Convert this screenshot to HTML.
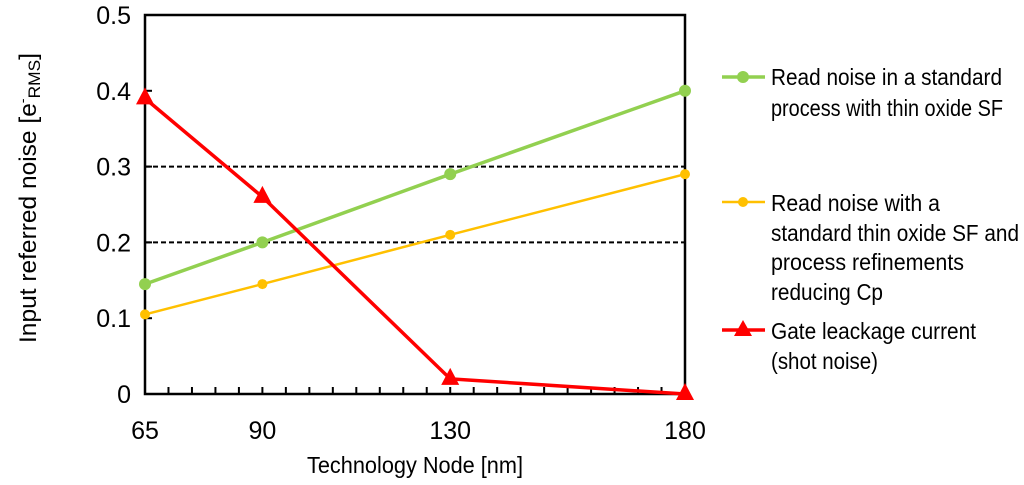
<!DOCTYPE html>
<html><head><meta charset="utf-8"><style>
html,body{margin:0;padding:0;background:#fff;}
svg{display:block;font-family:"Liberation Sans Narrow","Liberation Sans",sans-serif;}
</style></head><body>
<svg id="chart" width="1024" height="485" viewBox="0 0 1024 485" xmlns="http://www.w3.org/2000/svg">
<g id="grid"></g>
<g id="axes"></g>
<g id="series"></g>
<text x="415" y="473" font-size="23" text-anchor="middle" textLength="216" lengthAdjust="spacingAndGlyphs">Technology Node  [nm]</text>
<text transform="translate(36,198) rotate(-90)" font-size="24" text-anchor="middle" textLength="290" lengthAdjust="spacingAndGlyphs">Input referred noise  [e<tspan font-size="14" dy="-9">-</tspan><tspan font-size="17" dy="13">RMS</tspan><tspan dy="-4">]</tspan></text>
<g font-size="23">
 <g>
  <line x1="722" y1="77" x2="765" y2="77" stroke="#92d050" stroke-width="3.5"/>
  <circle cx="743" cy="77" r="6" fill="#92d050"/>
  <text x="771" y="85" textLength="231" lengthAdjust="spacingAndGlyphs">Read noise in a standard</text>
  <text x="771" y="116" textLength="232" lengthAdjust="spacingAndGlyphs">process with thin oxide SF</text>
 </g>
 <g>
  <line x1="722" y1="202" x2="765" y2="202" stroke="#ffc000" stroke-width="2.5"/>
  <circle cx="743" cy="202" r="5" fill="#ffc000"/>
  <text x="771" y="211" textLength="169" lengthAdjust="spacingAndGlyphs">Read noise with a</text>
  <text x="771" y="241" textLength="248" lengthAdjust="spacingAndGlyphs">standard thin oxide SF and</text>
  <text x="771" y="270" textLength="193" lengthAdjust="spacingAndGlyphs">process refinements</text>
  <text x="771" y="300" textLength="112" lengthAdjust="spacingAndGlyphs">reducing Cp</text>
 </g>
 <g>
  <line x1="722" y1="330" x2="765" y2="330" stroke="#ff0000" stroke-width="3.5"/>
  <polygon points="743,320 752,336 734,336" fill="#ff0000"/>
  <text x="771" y="339" textLength="205" lengthAdjust="spacingAndGlyphs">Gate leackage current</text>
  <text x="771" y="369" textLength="107" lengthAdjust="spacingAndGlyphs">(shot noise)</text>
 </g>
</g>
</svg>
<script>
const categories=[65,90,130,180];
const greenValues=[0.145,0.2,0.29,0.4];
const orangeValues=[0.105,0.145,0.21,0.29];
const redValues=[0.39,0.26,0.02,0.0];
const yTicks=[0,0.1,0.2,0.3,0.4,0.5];
const yTickLabels=["0","0.1","0.2","0.3","0.4","0.5"];
const dashedLevels=[0.2,0.3];

const NS="http://www.w3.org/2000/svg";
const L=145,R=685,T=15,B=394,xmin=65,xmax=180,ymax=0.5;
function xs(v){return L+(v-xmin)/(xmax-xmin)*(R-L);}
function ys(v){return B-v/ymax*(B-T);}
function mk(tag,attrs,parent){const e=document.createElementNS(NS,tag);for(const k in attrs)e.setAttribute(k,attrs[k]);parent.appendChild(e);return e;}
const grid=document.getElementById('grid'),axes=document.getElementById('axes'),series=document.getElementById('series');

dashedLevels.forEach(v=>{
 const l=mk('line',{x1:L,x2:R,y1:ys(v),y2:ys(v),stroke:'#000','stroke-width':2,'stroke-dasharray':'5,3'},grid);
 
 
});
const frame=mk('rect',{x:L,y:T,width:R-L,height:B-T,fill:'none',stroke:'#000','stroke-width':2.5},axes);


yTicks.forEach((v,i)=>{
 mk('line',{x1:L,x2:L+7,y1:ys(v),y2:ys(v),stroke:'#000','stroke-width':2},axes);
 const t=mk('text',{x:L-14,y:ys(v)+9,'font-size':25,'text-anchor':'end'},axes);
 t.textContent=yTickLabels[i];
 
 
});
for(let v=xmin+5;v<xmax;v+=5){mk('line',{x1:xs(v),x2:xs(v),y1:B,y2:B-7,stroke:'#000','stroke-width':2},axes);}
categories.forEach(c=>{
 const t=mk('text',{x:xs(c),y:B+45,'font-size':25,'text-anchor':'middle'},axes);
 t.textContent=String(c);
 
 
});
function drawSeries(vals,color,w,marker,name){
 const g=mk('g',{},series);
 
 
 mk('polyline',{points:vals.map((v,i)=>xs(categories[i])+','+ys(v)).join(' '),fill:'none',stroke:color,'stroke-width':w},g);
 vals.forEach((v,i)=>{
  const x=xs(categories[i]),y=ys(v);
  let m;
  if(marker==='tri') m=mk('polygon',{points:`${x},${y-11} ${x+9},${y+6} ${x-9},${y+6}`,fill:color},g);
  else m=mk('circle',{cx:x,cy:y,r:marker,fill:color},g);
  
  
 });
}
drawSeries(greenValues,'#92d050',3.5,6,'series-standard-process');
drawSeries(orangeValues,'#ffc000',2.5,5,'series-process-refinements');
drawSeries(redValues,'#ff0000',3.5,'tri','series-gate-leakage');
</script>
</body></html>
